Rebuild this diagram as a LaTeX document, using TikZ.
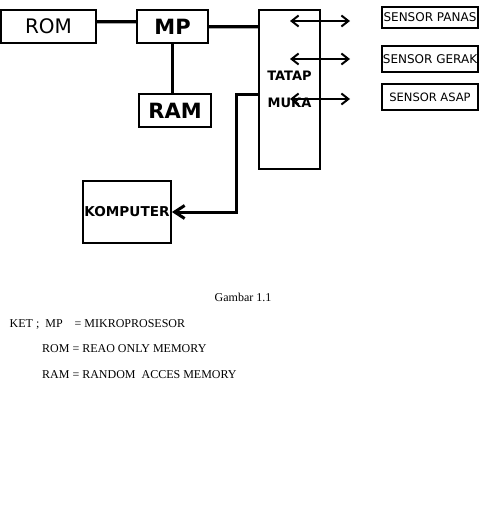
\documentclass[tikz,border=0pt]{standalone}
\usepackage{fontspec}
\setmainfont{Liberation Serif}
\newfontfamily\dejavu{DejaVu Sans}
\usetikzlibrary{arrows.meta}

\begin{document}
\begin{tikzpicture}[x=1pt, y=-1pt,
                    box/.style={draw, line width=1.8pt, inner sep=0pt, font=\dejavu},
                    link/.style={line width=3pt},
                    shadowlink/.style={line width=1.8pt, gray!70},
                    biarrow/.style={line width=2pt, {Straight Barb[length=7pt, width=11pt]}-{Straight Barb[length=7pt, width=11pt]}},
                    note/.style={anchor=base west, font=\fontsize{12}{14}\selectfont, inner sep=0pt}]
\useasboundingbox (0,0) rectangle (486,522);

% Boxes
\node[box, minimum width=95pt, minimum height=33pt, font=\dejavu\fontsize{20}{24}\selectfont] (rom) at (48.5,26.5) {ROM};
\node[box, minimum width=71pt, minimum height=33pt, font=\dejavu\bfseries\fontsize{21}{24}\selectfont] (mp) at (172.5,26.5) {MP};
\node[box, minimum width=72pt, minimum height=33pt, font=\dejavu\bfseries\fontsize{21}{24}\selectfont] (ram) at (175,110.5) {RAM};
\node[box, minimum width=61pt, minimum height=159pt, align=center, font=\dejavu\bfseries\fontsize{13}{16}\selectfont] (tm) at (289.5,89.5) {TATAP\\[11pt]MUKA};
\node[box, minimum width=88pt, minimum height=62pt, font=\dejavu\bfseries\fontsize{13.6}{16}\selectfont] (komp) at (127,212) {KOMPUTER};

% Sensors
\node[box, minimum width=96pt, minimum height=21pt, font=\dejavu\fontsize{12}{14}\selectfont] (panas) at (430,17.5) {SENSOR PANAS};
\node[box, minimum width=96pt, minimum height=26pt, font=\dejavu\fontsize{12}{14}\selectfont] (gerak) at (430,59) {SENSOR GERAK};
\node[box, minimum width=96pt, minimum height=26pt, font=\dejavu\fontsize{11.5}{14}\selectfont] (asap) at (430,97) {SENSOR ASAP};

% Bus lines
\draw[shadowlink] ([yshift=3.5pt]rom.east) -- ([yshift=3.5pt]mp.west);
\draw[link] ([yshift=5.5pt]rom.east) -- ([yshift=5.5pt]mp.west);
\draw[shadowlink] ([yshift=-2pt]mp.east) -- ([yshift=-2pt]mp.east -| tm.west);
\draw[link] (mp.east) -- (mp.east -| tm.west);
\draw[link] (mp.south) -- (mp.south |- ram.north);

% Tatap muka to komputer
\coordinate (bend) at (236,94);
\draw[link, -{Straight Barb[length=10pt, width=13pt]}] (tm.west |- bend) -- (bend) |- (komp.east);

% Arrows to sensors
\coordinate (a1l) at (290,21);  \coordinate (a1r) at (350,21);
\coordinate (a2l) at (290,59);  \coordinate (a2r) at (350,59);
\coordinate (a3l) at (290,99);  \coordinate (a3r) at (350,99);
\draw[biarrow] (a1l) -- (a1r);
\draw[biarrow] (a2l) -- (a2r);
\draw[biarrow] (a3l) -- (a3r);

% Caption and notes
\node[anchor=base, font=\fontsize{12}{14}\selectfont, inner sep=0pt] (cap) at (243,301) {Gambar 1.1};
\node[note] (ket) at (9.5,327) {KET ;\hspace{6pt}MP\hspace{12pt}= MIKROPROSESOR};
\node[note] (ketrom) at (42,352) {ROM = REAO ONLY MEMORY};
\node[note] (ketram) at (42,378) {RAM = RANDOM\hspace{6pt}ACCES MEMORY};

\end{tikzpicture}
\end{document}
